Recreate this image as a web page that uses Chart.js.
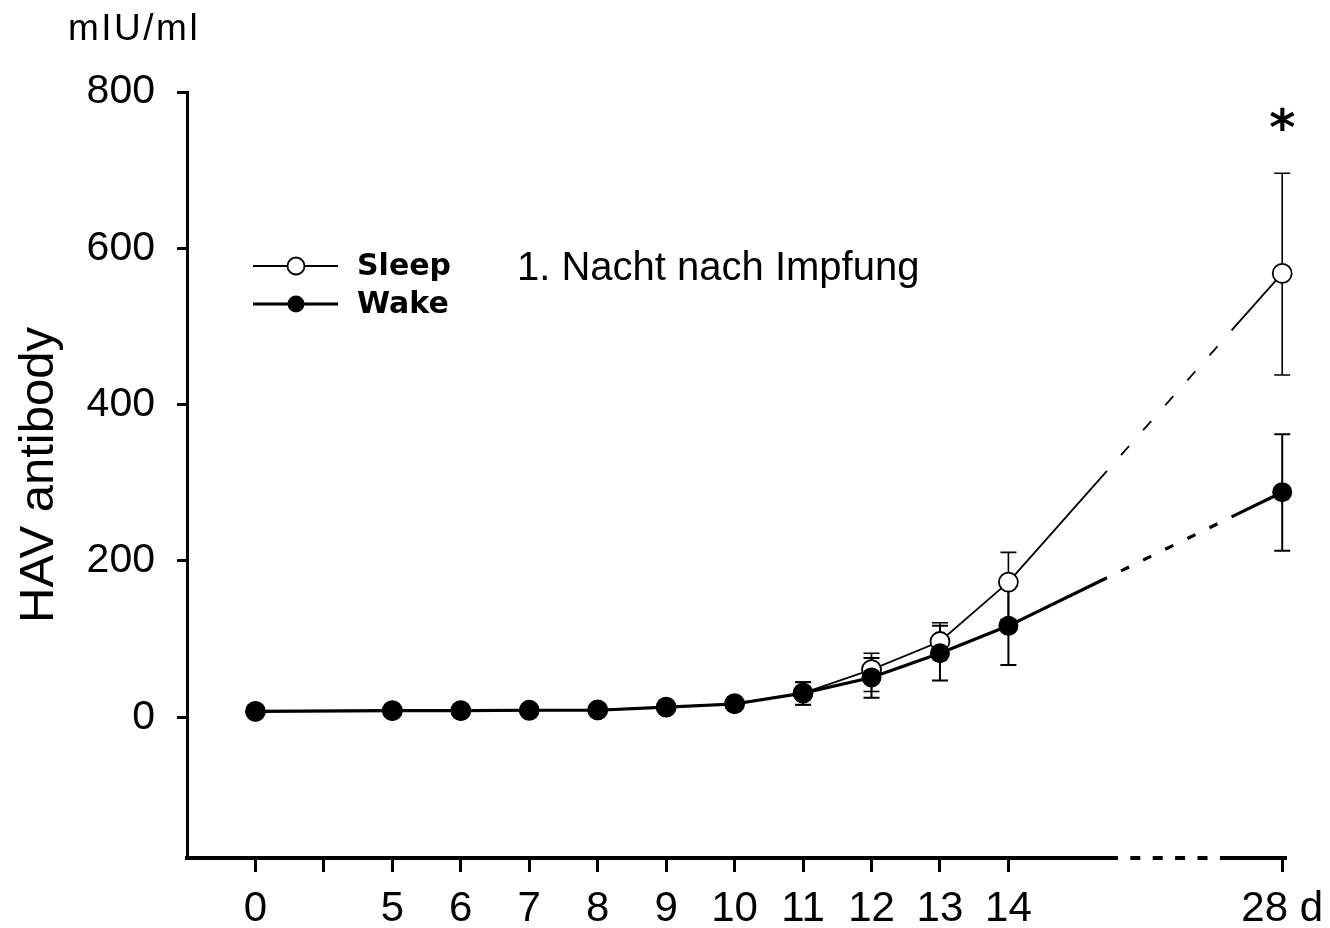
<!DOCTYPE html>
<html><head><meta charset="utf-8">
<script src="https://cdn.jsdelivr.net/npm/chart.js@4.4.1/dist/chart.umd.min.js"></script>
<style>html,body{margin:0;padding:0;background:#fff;}</style>
</head><body>
<canvas id="c" width="1330" height="928"></canvas>
<script>
// ---- data ----
const days = [0, 5, 6, 7, 8, 9, 10, 11, 12, 13, 14, 28];
const sleepValues = [7.5, 8.5, 8.5, 9, 9.5, 13, 17.5, 31, 61, 97, 173, 568];
const wakeValues  = [7.5, 8.5, 8.5, 9, 9, 13, 17, 31, 51, 82, 117, 288];
// error bar ends (null = no visible bar)
const sleepErrHigh = [null, null, null, null, null, null, 21, 45, 82, 121, 211, 696];
const sleepErrLow  = [null, null, null, null, null, null, 14, 16, 33, 76, 125, 438];
const wakeErrHigh  = [null, null, null, null, null, null, 20, 45, 76, 117, 167, 362];
const wakeErrLow   = [null, null, null, null, null, null, 14, 16, 25, 47, 67, 213];
const yTicks = [0, 200, 400, 600, 800];
const xTickPos = [0, 1, 2, 3, 4, 5, 6, 7, 8, 9, 10, 11, 15];
const xTickLabels = ['0', '', '5', '6', '7', '8', '9', '10', '11', '12', '13', '14', '28 d'];
const seriesNames = ['Sleep', 'Wake'];
const noteText = '1. Nacht nach Impfung';
const unitLabel = 'mIU/ml';
const yTitle = 'HAV antibody';
const starMark = {day: 28, value: 765, text: '*'};

// broken time axis: day -> axis position
function axisPos(d) { return d === 0 ? 0 : (d <= 14 ? d - 3 : 15); }
const lineBreak = [12.44, 14.26];
const axisBreak = [12.6, 14.09];

Chart.defaults.font.family = "'Liberation Sans', Arial, sans-serif";
Chart.defaults.color = '#000';

function breakDash(c) {
  const xs = c.chart.scales.x;
  const p0 = c.p0, p1 = c.p1;
  const xb0 = xs.getPixelForValue(lineBreak[0]), xb1 = xs.getPixelForValue(lineBreak[1]);
  if (p1.x <= xb0 || p0.x >= xb1) return undefined;
  const dx = p1.x - p0.x, dy = p1.y - p0.y, L = Math.hypot(dx, dy);
  const f0 = (xb0 - p0.x) / dx, f1 = (xb1 - p0.x) / dx;
  const A = f0 * L, B = (1 - f1) * L, G = (f1 - f0) * L;
  const k = G / (8 * 5 + 14 * 6), d = 8 * k, g = 14 * k;
  return [A, g, d, g, d, g, d, g, d, g, d, g, B, 100000];
}

const errorBars = {
  id: 'errorBars',
  beforeDatasetsDraw(chart) {
    const ctx = chart.ctx, ys = chart.scales.y;
    chart.data.datasets.forEach((ds, di) => {
      const meta = chart.getDatasetMeta(di);
      ctx.save();
      ctx.strokeStyle = '#000';
      ctx.lineWidth = ds.errWidth;
      meta.data.forEach((pt, i) => {
        const hi = ds.errHigh[i], lo = ds.errLow[i];
        if (hi == null || lo == null) return;
        const yt = ys.getPixelForValue(hi), yb = ys.getPixelForValue(lo);
        ctx.beginPath();
        ctx.moveTo(pt.x, yt); ctx.lineTo(pt.x, yb);
        ctx.moveTo(pt.x - 8, yt); ctx.lineTo(pt.x + 8, yt);
        ctx.moveTo(pt.x - 8, yb); ctx.lineTo(pt.x + 8, yb);
        ctx.stroke();
      });
      ctx.restore();
    });
  }
};

const brokenAxis = {
  id: 'brokenAxis',
  afterDatasetsDraw(chart) {
    const ctx = chart.ctx, xs = chart.scales.x, a = chart.chartArea;
    const x0 = a.left - 2, x1 = a.right;
    const xb0 = xs.getPixelForValue(axisBreak[0]), xb1 = xs.getPixelForValue(axisBreak[1]);
    const G = xb1 - xb0, k = G / (4 * 10 + 5 * 12.4), d = 10 * k, g = 12.4 * k;
    ctx.save();
    ctx.strokeStyle = '#000';
    ctx.lineWidth = 4;
    ctx.setLineDash([xb0 - x0, g, d, g, d, g, d, g, d, g, x1 - xb1, 100000]);
    ctx.beginPath();
    ctx.moveTo(x0, a.bottom); ctx.lineTo(x1, a.bottom);
    ctx.stroke();
    ctx.restore();
  }
};

const decor = {
  id: 'decor',
  afterDraw(chart) {
    const ctx = chart.ctx, xs = chart.scales.x, ys = chart.scales.y;
    ctx.save();
    ctx.fillStyle = '#000';
    ctx.textAlign = 'left';
    ctx.textBaseline = 'alphabetic';
    ctx.font = "37px 'Liberation Sans'";
    ctx.letterSpacing = '2.5px';
    ctx.fillText(unitLabel, 68, 40);
    ctx.letterSpacing = '0px';
    ctx.font = "40px 'Liberation Sans'";
    ctx.fillText(noteText, 517, 280);
    // legend
    chart.data.datasets.forEach((ds, i) => {
      const y = 266 + i * 38;
      ctx.strokeStyle = '#000';
      ctx.lineWidth = ds.borderWidth;
      ctx.beginPath(); ctx.moveTo(253, y); ctx.lineTo(338, y); ctx.stroke();
      ctx.beginPath(); ctx.arc(296, y, 8.5, 0, 2 * Math.PI);
      ctx.fillStyle = ds.pointBackgroundColor; ctx.fill();
      if (ds.pointBorderWidth) { ctx.lineWidth = ds.pointBorderWidth; ctx.stroke(); }
      ctx.fillStyle = '#000';
      ctx.font = "bold 30px 'DejaVu Sans'";
      ctx.fillText(ds.label, 357, y + 9);
    });
    // significance star
    ctx.textAlign = 'center';
    ctx.font = "bold 50px 'DejaVu Sans'";
    ctx.fillText(starMark.text, xs.getPixelForValue(axisPos(starMark.day)), ys.getPixelForValue(starMark.value) + 26);
    ctx.restore();
  }
};

new Chart(document.getElementById('c'), {
  type: 'line',
  data: {
    datasets: [
      {
        label: seriesNames[0],
        data: days.map((d, i) => ({x: axisPos(d), y: sleepValues[i]})),
        errHigh: sleepErrHigh, errLow: sleepErrLow, errWidth: 1.6,
        borderColor: '#000', borderWidth: 1.8,
        pointRadius: 9.5, pointBackgroundColor: '#fff', pointBorderColor: '#000', pointBorderWidth: 1.8,
        order: 1, clip: false,
        segment: {borderDash: breakDash}
      },
      {
        label: seriesNames[1],
        data: days.map((d, i) => ({x: axisPos(d), y: wakeValues[i]})),
        errHigh: wakeErrHigh, errLow: wakeErrLow, errWidth: 2,
        borderColor: '#000', borderWidth: 3.2,
        pointRadius: 10, pointBackgroundColor: '#000', pointBorderColor: '#000', pointBorderWidth: 0,
        order: 0, clip: false,
        segment: {borderDash: breakDash}
      }
    ]
  },
  options: {
    responsive: false,
    animation: false,
    layout: {padding: {top: 92, right: 43, bottom: 0, left: 0}},
    plugins: {legend: {display: false}, tooltip: {enabled: false}},
    scales: {
      x: {
        type: 'linear', min: -1, max: 15.07,
        afterBuildTicks: s => { s.ticks = xTickPos.map(v => ({value: v})); },
        afterFit: s => { s.height = 70; s.paddingRight = 0; s.paddingLeft = 0; },
        ticks: {autoSkip: false, maxRotation: 0, padding: 12, color: '#000', font: {size: 42},
                callback: (v, i) => xTickLabels[i]},
        grid: {drawOnChartArea: false, drawTicks: true, tickLength: 14, tickWidth: 3, tickColor: '#000'},
        border: {display: false}
      },
      y: {
        min: -180, max: 800,
        afterBuildTicks: s => { s.ticks = yTicks.map(v => ({value: v})); },
        afterFit: s => { s.width = 187; },
        ticks: {padding: 22, color: '#000', font: {size: 41}},
        grid: {drawOnChartArea: false, drawTicks: true, tickLength: 10, tickWidth: 3, tickColor: '#000'},
        border: {display: true, width: 3, color: '#000'},
        title: {display: true, text: yTitle, color: '#000', font: {size: 49}, padding: {top: 10, bottom: 0}}
      }
    }
  },
  plugins: [errorBars, brokenAxis, decor]
});
</script>
</body></html>
